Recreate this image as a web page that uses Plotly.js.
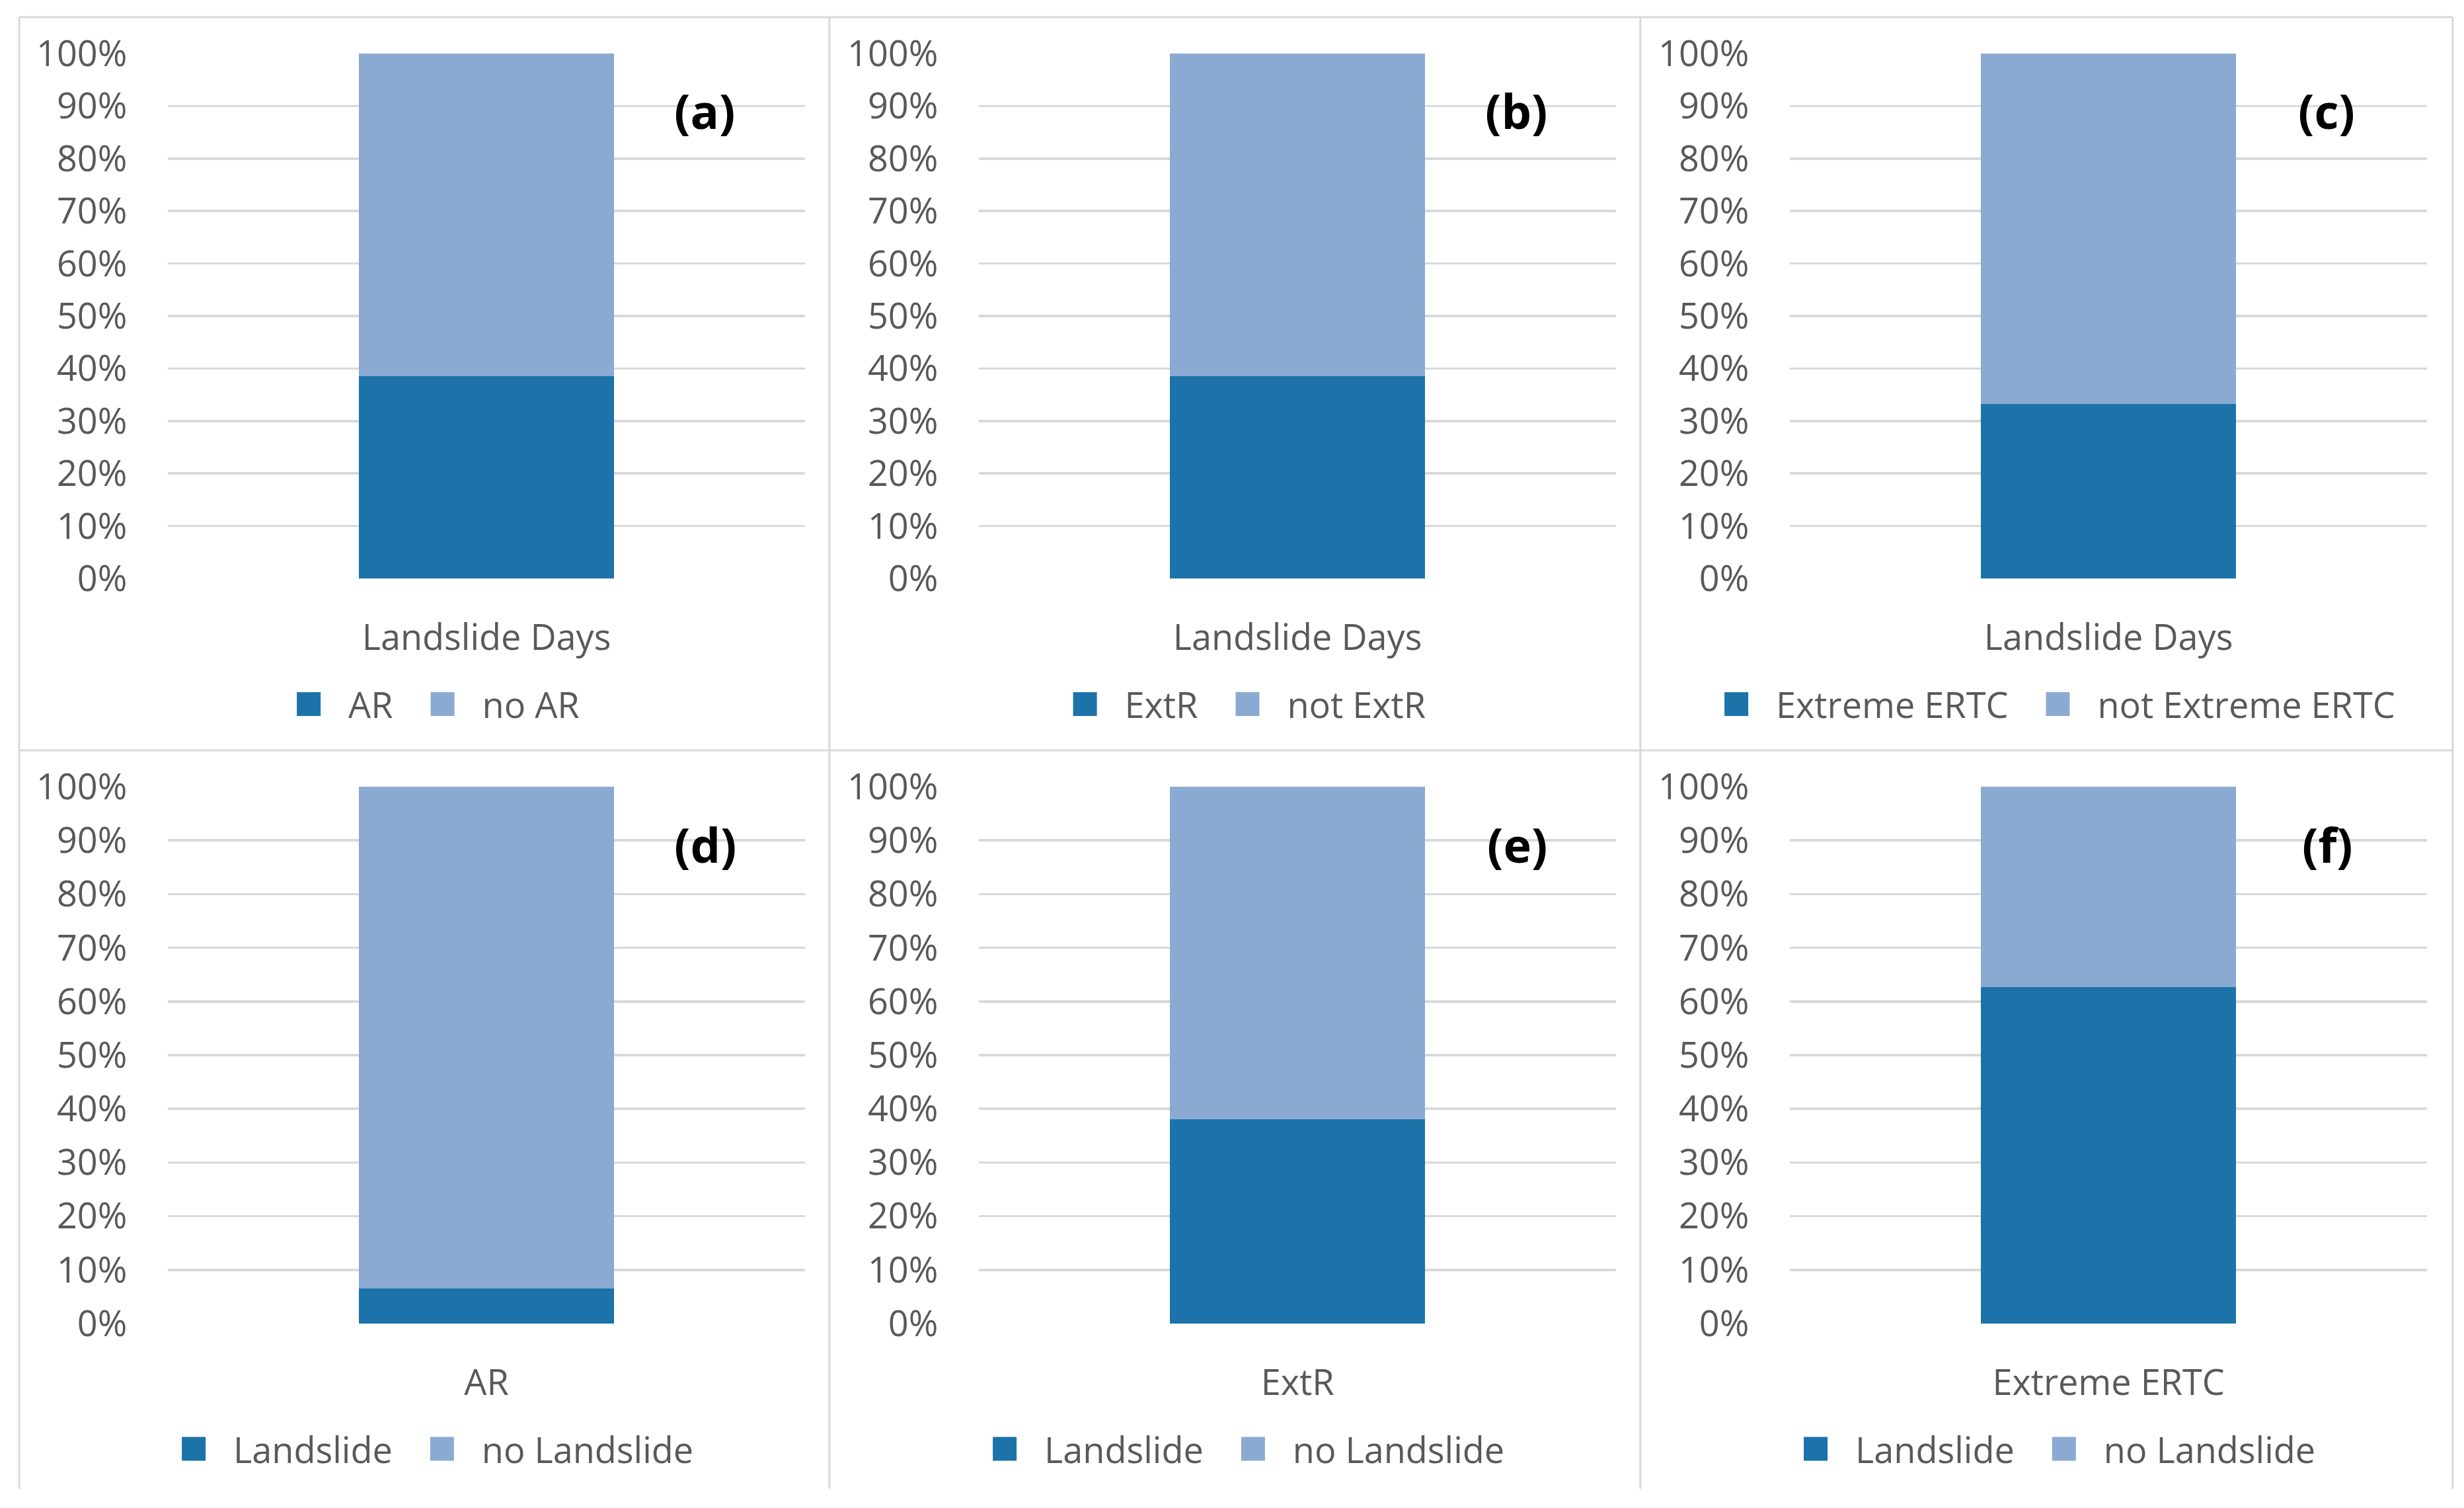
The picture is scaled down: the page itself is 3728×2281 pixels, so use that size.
<!DOCTYPE html>
<html>
<head>
<meta charset="utf-8">
<script src="https://cdn.plot.ly/plotly-3.0.1.min.js"></script>
<style>
html, body { margin:0; padding:0; background:#ffffff; overflow:hidden; width:3728px; height:2281px; }
#chart { width:1243px; height:761px; transform:scale(3); transform-origin:0 0; }
</style>
</head>
<body>
<div id="chart"></div>
<script>
// ---- data (fractions of 1 = 100%) ----
const panelLabels   = ['(a)', '(b)', '(c)', '(d)', '(e)', '(f)'];
const categories    = ['Landslide Days', 'Landslide Days', 'Landslide Days', 'AR', 'ExtR', 'Extreme ERTC'];
const seriesANames  = ['AR', 'ExtR', 'Extreme ERTC', 'Landslide', 'Landslide', 'Landslide'];
const seriesBNames  = ['no AR', 'not ExtR', 'not Extreme ERTC', 'no Landslide', 'no Landslide', 'no Landslide'];
const seriesAValues = [0.385, 0.385, 0.332, 0.065, 0.380, 0.627];
const seriesBValues = [0.615, 0.615, 0.668, 0.935, 0.620, 0.373];
const yTickVals     = [0, 0.1, 0.2, 0.3, 0.4, 0.5, 0.6, 0.7, 0.8, 0.9, 1.0];
const yTickText     = ['0%', '10%', '20%', '30%', '40%', '50%', '60%', '70%', '80%', '90%', '100%'];

// ---- styling ----
const W = 1243, H = 761;
const darkBlue = '#1B73A9';
const lightBlue = '#8BAAD2';
const gridColor = '#D9D9D9';
const textColor = '#595959';
const fontFamily = 'Open Sans, Noto Sans, sans-serif';
const fontSize = 18;

// layout geometry in "u" units (1u = 3 screen px)
const colX = [[84.7, 406.0], [493.7, 815.0], [902.7, 1224.0]];
const rowY = [[27.0, 291.7], [396.7, 667.3]];
const legendCenterX = [216.7, 625.7, 1034.7];
const legendCenterY = [355.3, 730.8];

const fx = u => u / W;
const fy = u => 1 - u / H;

const traces = [];
const layout = {
  width: W, height: H,
  margin: {l: 0, r: 0, t: 0, b: 0, pad: 0},
  paper_bgcolor: '#ffffff',
  plot_bgcolor: 'rgba(0,0,0,0)',
  barmode: 'stack',
  bargap: 0.6,
  font: {family: fontFamily, size: fontSize, color: textColor},
  showlegend: true,
  annotations: [],
  shapes: []
};

for (let i = 0; i < 6; i++) {
  const n = i + 1;
  const sfx = n === 1 ? '' : String(n);
  const col = i % 3, row = Math.floor(i / 3);
  const legName = 'legend' + sfx;

  traces.push({
    type: 'bar', x: [categories[i]], y: [seriesAValues[i]], name: seriesANames[i],
    xaxis: 'x' + sfx, yaxis: 'y' + sfx, legend: legName,
    marker: {color: darkBlue, line: {width: 0}}, hoverinfo: 'none'
  });
  traces.push({
    type: 'bar', x: [categories[i]], y: [seriesBValues[i]], name: seriesBNames[i],
    xaxis: 'x' + sfx, yaxis: 'y' + sfx, legend: legName,
    marker: {color: lightBlue, line: {width: 0}}, hoverinfo: 'none'
  });

  layout['xaxis' + sfx] = {
    domain: [fx(colX[col][0]), fx(colX[col][1])],
    anchor: 'y' + sfx,
    type: 'category',
    showgrid: false, zeroline: false, showline: false,
    ticks: 'outside', ticklen: 13.5, tickcolor: 'rgba(0,0,0,0)',
    tickfont: {family: fontFamily, size: fontSize, color: textColor},
    fixedrange: true
  };
  layout['yaxis' + sfx] = {
    domain: [fy(rowY[row][1]), fy(rowY[row][0])],
    anchor: 'x' + sfx,
    range: [0, 1],
    tickmode: 'array', tickvals: yTickVals, ticktext: yTickText,
    showgrid: true, gridcolor: gridColor, gridwidth: 1.2,
    zeroline: false, showline: false,
    ticks: 'outside', ticklen: 16, tickcolor: 'rgba(0,0,0,0)',
    tickfont: {family: fontFamily, size: fontSize, color: textColor},
    fixedrange: true
  };
  layout[legName] = {
    orientation: 'h',
    x: fx(legendCenterX[col]), xanchor: 'center',
    y: fy(legendCenterY[row]), yanchor: 'middle',
    font: {family: fontFamily, size: fontSize, color: textColor},
    bgcolor: 'rgba(0,0,0,0)',
    traceorder: 'normal',
    itemclick: false, itemdoubleclick: false
  };
  layout.annotations.push({
    text: panelLabels[i],
    xref: 'x' + sfx + ' domain', yref: 'y' + sfx + ' domain',
    x: 0.843, y: 0.893, xanchor: 'center', yanchor: 'middle',
    showarrow: false,
    font: {family: fontFamily, size: 24, color: '#000000', weight: 'bold'}
  });
}

// panel frame lines
const frameX = [9.67, 418.3, 827.3, 1237.0];
const frameTop = 8.67, frameMid = 378.3, frameBottom = 750.7;
const lineStyle = {color: gridColor, width: 1};
[frameTop, frameMid].forEach(yu => {
  layout.shapes.push({type: 'line', xref: 'paper', yref: 'paper',
    x0: fx(frameX[0]), x1: fx(frameX[3]), y0: fy(yu), y1: fy(yu), line: lineStyle});
});
frameX.forEach(xu => {
  layout.shapes.push({type: 'line', xref: 'paper', yref: 'paper',
    x0: fx(xu), x1: fx(xu), y0: fy(frameTop), y1: fy(frameBottom), line: lineStyle});
});

Plotly.newPlot('chart', traces, layout, {displayModeBar: false, staticPlot: true});
</script>
</body>
</html>
